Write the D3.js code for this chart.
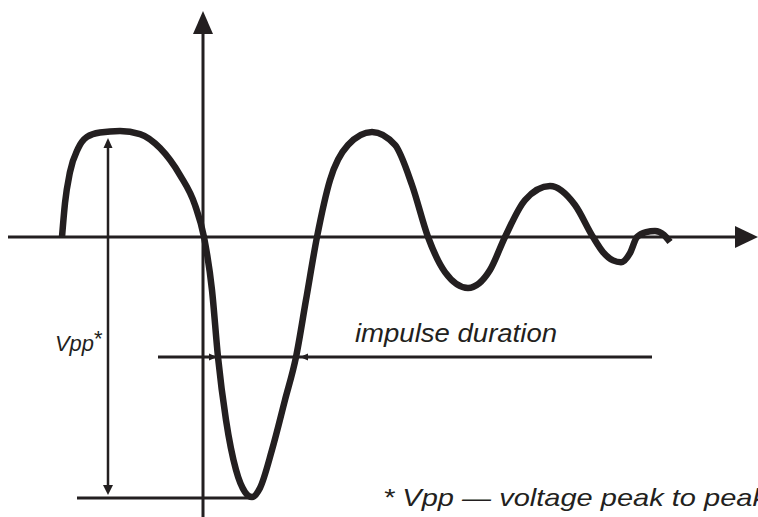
<!DOCTYPE html>
<html>
<head>
<meta charset="utf-8">
<script src="https://cdn.jsdelivr.net/npm/d3@7"></script>
<style>
  body { margin: 0; background: #fff; }
  svg { display: block; }
  text { font-family: "Liberation Sans", Arial, Helvetica, sans-serif; font-style: italic; fill: #231f20; }
</style>
</head>
<body>
<div id="chart"></div>
<script>
var width = 758;
var height = 517;
var ink = "#231f20";

// damped impulse waveform: time (arbitrary units) and voltage (normalised, trough = -1)
var waveT = [-14.1, -13.8, -13.3, -12.5, -11.6, -10.3, -8.3, -6.3, -4.3, -2.3, -0.8, 0.1,
             0.9, 1.5, 2.3, 3.3, 4.2, 4.9, 5.7, 6.9, 8.2, 9.3, 10.3, 11.4,
             12.7, 14.5, 16.9, 19.2, 20.9, 22.5, 24.2, 26.5, 28.7, 30.2,
             32.2, 34.7, 37.2, 39.0, 40.0, 41.0, 41.8, 42.7, 43.4, 44.3, 45.2, 46.1, 46.7];
var waveV = [0, 0.13, 0.25, 0.34, 0.385, 0.402, 0.408, 0.396, 0.342, 0.238, 0.123, 0,
             -0.204, -0.462, -0.704, -0.896, -0.981, -1.0, -0.965, -0.819, -0.627, -0.462, -0.242, 0,
             0.219, 0.354, 0.404, 0.354, 0.2, 0, -0.135, -0.196, -0.127, 0,
             0.142, 0.196, 0.123, 0, -0.058, -0.09, -0.097, -0.062, 0, 0.019, 0.023, 0.008, -0.019];

// peak to peak marker
var vppT = -9.5;
var vppRange = [0.381, -0.992];
var troughLine = [-12.6, 4.9];

// impulse duration marker
var impulseV = -0.462;
var impulseLine = [-4.5, 44.9];
var impulseTips = [1.4, 9.7];

// axes extent
var axisT = [-19.5, 55.5];
var axisV = [-1.08, 0.869];

var x = d3.scaleLinear().domain([-19.5, 55.5]).range([8, 758]);
var y = d3.scaleLinear().domain([-1, 0.4]).range([497, 133]);

var svg = d3.select("#chart").append("svg")
    .attr("width", width)
    .attr("height", height);

function arrowHead(tipX, tipY, dx, dy, len, half) {
  // triangle with its point at tip, pointing along (dx, dy)
  var bx = tipX - dx * len, by = tipY - dy * len;
  var px = -dy * half, py = dx * half;
  svg.append("path")
    .attr("d", "M" + tipX + "," + tipY +
               " L" + (bx + px) + "," + (by + py) +
               " L" + (bx - px) + "," + (by - py) + " Z")
    .attr("fill", ink);
}

// horizontal axis
svg.append("line")
  .attr("x1", x(axisT[0])).attr("x2", x(axisT[1]) - 20)
  .attr("y1", y(0)).attr("y2", y(0))
  .attr("stroke", ink).attr("stroke-width", 3);
arrowHead(x(axisT[1]), y(0), 1, 0, 23, 11);

// vertical axis
svg.append("line")
  .attr("x1", x(0)).attr("x2", x(0))
  .attr("y1", y(axisV[0])).attr("y2", y(axisV[1]) + 20)
  .attr("stroke", ink).attr("stroke-width", 3);
arrowHead(x(0), y(axisV[1]), 0, -1, 23, 10);

// trough level line
svg.append("line")
  .attr("x1", x(troughLine[0])).attr("x2", x(troughLine[1]))
  .attr("y1", y(-1) + 1).attr("y2", y(-1) + 1)
  .attr("stroke", ink).attr("stroke-width", 3);

// Vpp double arrow
svg.append("line")
  .attr("x1", x(vppT)).attr("x2", x(vppT))
  .attr("y1", y(vppRange[0]) + 8).attr("y2", y(vppRange[1]) - 8)
  .attr("stroke", ink).attr("stroke-width", 2.5);
arrowHead(x(vppT), y(vppRange[0]), 0, -1, 10, 4.5);
arrowHead(x(vppT), y(vppRange[1]), 0, 1, 10, 5);

// impulse duration line
svg.append("line")
  .attr("x1", x(impulseLine[0])).attr("x2", x(impulseLine[1]))
  .attr("y1", y(impulseV)).attr("y2", y(impulseV))
  .attr("stroke", ink).attr("stroke-width", 3);
arrowHead(x(impulseTips[0]), y(impulseV), 1, 0, 8, 3.5);
arrowHead(x(impulseTips[1]), y(impulseV), -1, 0, 8, 3.5);

// waveform
var wave = waveT.map(function(t, i) { return [t, waveV[i]]; });
var line = d3.line()
  .x(function(d) { return x(d[0]); })
  .y(function(d) { return y(d[1]); })
  .curve(d3.curveMonotoneX);

svg.append("path")
  .attr("d", line(wave))
  .attr("fill", "none")
  .attr("stroke", ink)
  .attr("stroke-width", 6.5)
  .attr("stroke-linejoin", "round");

// labels
svg.append("text")
  .text("impulse duration")
  .attr("x", 355).attr("y", 342)
  .attr("font-size", 25)
  .attr("textLength", 202)
  .attr("lengthAdjust", "spacingAndGlyphs");

svg.append("text")
  .text("Vpp")
  .attr("x", 55).attr("y", 351)
  .attr("font-size", 22)
  .attr("textLength", 39)
  .attr("lengthAdjust", "spacingAndGlyphs");
svg.append("text")
  .text("*")
  .attr("x", 94).attr("y", 346)
  .attr("font-size", 22)
  .style("font-style", "normal");

svg.append("text")
  .text("* Vpp \u2014 voltage peak to peak")
  .attr("x", 383).attr("y", 506)
  .attr("font-size", 24)
  .attr("textLength", 384)
  .attr("lengthAdjust", "spacingAndGlyphs");
</script>
</body>
</html>
